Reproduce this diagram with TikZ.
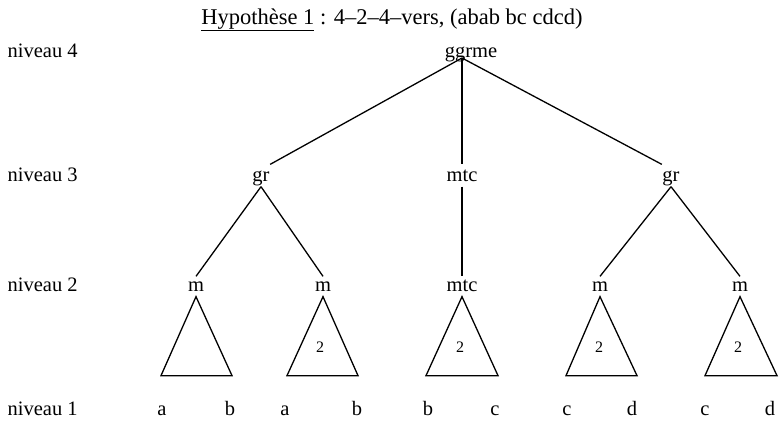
\documentclass[tikz,border=0pt]{standalone}
\usepackage{fontspec}
\setmainfont{Liberation Serif}
\newcommand{\ulx}[1]{\setbox0\hbox{#1}\rlap{\rule[-7pt]{\wd0}{0.9pt}}\box0}
\begin{document}
\begin{tikzpicture}[x=1pt,y=-1pt, line width=1.3pt,
  lab/.style={font=\fontsize{20.5}{24}\selectfont, inner sep=0pt},
  lvl/.style={lab, anchor=base west},
  leaf/.style={lab, anchor=base},
  upper/.style={lab, text height=16.5pt, text depth=4.5pt},
  mid/.style={lab, text height=14.5pt, text depth=4.5pt},
  tri/.style={line width=1.3pt, line join=miter},
  num/.style={font=\fontsize{16}{19}\selectfont, inner sep=0pt, anchor=base}]
\useasboundingbox (0,0) rectangle (779,421);

% title
\node[font=\fontsize{22.5}{26}\selectfont, inner sep=0pt, anchor=base west] (title) at (200.7,24)
  {\ulx{Hypothèse 1}\ : 4–2–4–vers, (abab bc cdcd)};

% level labels
\node[lvl] (n4) at (7,57) {niveau 4};
\node[lvl] (n3) at (7,181.5) {niveau 3};
\node[lvl] (n2) at (7,291.5) {niveau 2};
\node[lvl] (n1) at (7,415) {niveau 1};

% level 4
\node[lab, anchor=base] (root) at (471,57) {ggrme};
\coordinate (j) at (462,58);

% level 3
\node[upper] (gr1) at (261,175.5) {gr};
\node[upper] (mtc3) at (462,175.5) {mtc};
\node[upper] (gr2) at (671,175.5) {gr};

% level 2
\node[mid] (m1) at (196,286.5) {m};
\node[mid] (m2) at (323,286.5) {m};
\node[mid] (mtc2) at (462,286.5) {mtc};
\node[mid] (m4) at (600,286.5) {m};
\node[mid] (m5) at (740,286.5) {m};

% connectors
\draw (j) -- (gr1.north east);
\draw (j) -- (mtc3.north);
\draw (j) -- (gr2.north west);
\draw (gr1.south) -- (m1.north);
\draw (gr1.south) -- (m2.north);
\draw (mtc3.south) -- (mtc2.north);
\draw (gr2.south) -- (m4.north);
\draw (gr2.south) -- (m5.north);

% triangles
\draw[tri] (m1.south) -- ++(-35,79) -- ++(71,0) -- cycle;
\draw[tri] (m2.south) -- ++(-36,79) -- ++(71,0) -- cycle;
\draw[tri] (mtc2.south) -- ++(-36,79) -- ++(72,0) -- cycle;
\draw[tri] (m4.south) -- ++(-34,79) -- ++(71,0) -- cycle;
\draw[tri] (m5.south) -- ++(-35,79) -- ++(72,0) -- cycle;

\node[num] (t2) at (320,352) {2};
\node[num] (t3) at (460,352) {2};
\node[num] (t4) at (599,352) {2};
\node[num] (t5) at (738,352) {2};

% level 1
\node[leaf] (a1) at (162,415) {a};
\node[leaf] (b1) at (230,415) {b};
\node[leaf] (a2) at (285,415) {a};
\node[leaf] (b2) at (357,415) {b};
\node[leaf] (b3) at (428,415) {b};
\node[leaf] (c3) at (495,415) {c};
\node[leaf] (c4) at (567,415) {c};
\node[leaf] (d4) at (632,415) {d};
\node[leaf] (c5) at (705,415) {c};
\node[leaf] (d5) at (770,415) {d};
\end{tikzpicture}
\end{document}
